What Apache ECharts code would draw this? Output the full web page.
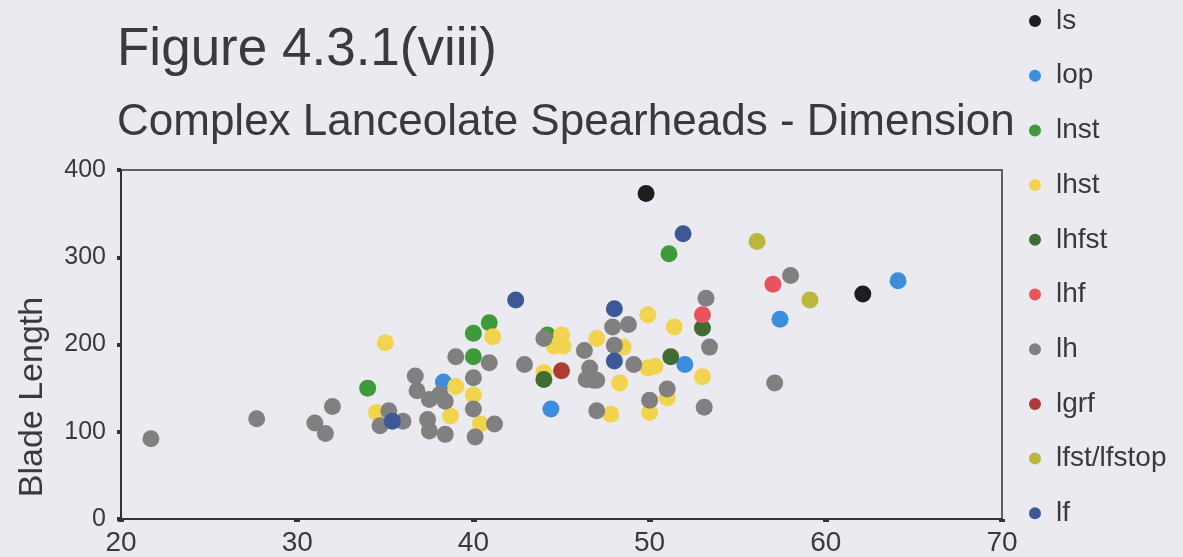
<!DOCTYPE html>
<html>
<head>
<meta charset="utf-8">
<script src="https://cdn.jsdelivr.net/npm/echarts@6/dist/echarts.min.js"></script>
<style>
  html, body { margin: 0; padding: 0; background: #ebeaf0; }
  #main { width: 1183px; height: 557px; }
</style>
</head>
<body>
<div id="main"></div>
<script>
// series names, in legend order
var seriesNames = ['ls', 'lop', 'lnst', 'lhst', 'lhfst', 'lhf', 'lh', 'lgrf', 'lfst/lfstop', 'lf'];
var seriesColors = ['#1e1e1e', '#3b8ede', '#3e9a3a', '#f2d34e', '#3f6c33', '#e8535d', '#808080', '#b03a35', '#bbb73a', '#3c5898'];

// [maximum width, blade length]
var ls = [[49.8, 373], [62.1, 258]];
var lop = [[38.3, 157], [44.4, 126], [52.0, 177], [57.4, 229], [64.1, 273]];
var lnst = [[34.0, 150], [40.0, 213], [40.9, 225], [40.0, 186], [44.2, 211], [51.1, 304]];
var lhst = [[35.0, 202], [34.5, 122], [39.0, 152], [41.1, 209], [40.0, 142], [38.7, 118], [40.4, 109],
  [45.0, 211], [44.6, 198], [45.1, 198], [47.0, 207], [48.5, 197], [49.9, 234], [51.4, 220],
  [49.9, 173], [50.3, 175], [44.0, 168], [48.3, 156], [51.0, 139], [50.0, 122], [47.8, 120], [53.0, 163]];
var lhfst = [[44.0, 160], [51.2, 186], [53.0, 219]];
var lhf = [[57.0, 269], [53.0, 234]];
var lh = [[21.7, 92], [27.7, 115], [31.0, 110], [31.6, 98], [32.0, 129], [35.2, 124], [34.7, 107],
  [36.0, 112], [36.7, 164], [36.8, 147], [37.5, 137], [38.1, 143], [38.4, 135], [37.4, 114],
  [37.5, 101], [38.4, 97], [39.0, 186], [40.9, 179], [42.9, 177], [40.0, 162], [40.0, 126],
  [40.1, 94], [41.2, 109], [44.0, 207], [46.3, 193], [47.9, 220], [48.8, 223], [48.0, 199],
  [49.1, 177], [46.6, 173], [46.4, 160], [46.8, 159], [47.0, 159], [51.0, 149], [50.0, 136],
  [47.0, 124], [53.2, 253], [53.4, 197], [53.1, 128], [58.0, 279], [57.1, 156]];
var lgrf = [[45.0, 170]];
var lfst = [[56.1, 318], [59.1, 251]];
var lf = [[35.4, 112], [42.4, 251], [48.0, 241], [48.0, 181], [51.9, 327]];

var seriesData = [ls, lop, lnst, lhst, lhfst, lhf, lh, lgrf, lfst, lf];

var xTicks = [20, 30, 40, 50, 60, 70];
var yTicks = [0, 100, 200, 300, 400];

var myChart = echarts.init(document.getElementById('main'));

var series = [];
for (var i = 0; i < seriesNames.length; i++) {
    series.push({
        name: seriesNames[i],
        type: 'scatter',
        symbol: 'circle',
        symbolSize: 17,
        itemStyle: {
            color: seriesColors[i],
            opacity: 1
        },
        data: seriesData[i]
    });
}

var textColor = '#3a3a3a';
var fontName = 'Liberation Sans, Arial, sans-serif';

option = {
    backgroundColor: '#ebeaf0',
    animation: false,
    textStyle: { fontFamily: fontName },
    grid: {
        left: 121,
        right: 181,
        top: 170,
        bottom: 37,
        show: true,
        borderColor: '#333',
        borderWidth: 1.5,
        backgroundColor: 'transparent'
    },
    legend: {
        orient: 'vertical',
        left: 1024,
        top: 2,
        icon: 'circle',
        itemWidth: 12,
        itemHeight: 12,
        itemGap: 26.7,
        data: seriesNames,
        textStyle: {
            fontSize: 28,
            lineHeight: 28,
            color: textColor,
            fontFamily: fontName,
            padding: [0, 0, 0, 10]
        }
    },
    graphic: [{
        type: 'text',
        left: 117,
        top: 24,
        style: {
            text: 'Figure 4.3.1(viii)',
            fontSize: 53,
            fontFamily: fontName,
            fill: textColor
        }
    }, {
        type: 'text',
        left: 117,
        top: 101,
        style: {
            text: 'Complex Lanceolate Spearheads - Dimension',
            fontSize: 44,
            fontFamily: fontName,
            fill: textColor
        }
    }, {
        // y axis title, sits lower than the plot centre in the original
        type: 'text',
        x: 33,
        y: 397,
        rotation: Math.PI / 2,
        style: {
            text: 'Blade Length',
            fontSize: 34,
            fontFamily: fontName,
            fill: textColor,
            align: 'center',
            verticalAlign: 'middle'
        }
    }],
    xAxis: {
        type: 'value',
        min: xTicks[0],
        max: xTicks[xTicks.length - 1],
        interval: 10,
        axisLine: { lineStyle: { color: '#333', width: 2 } },
        axisTick: { length: 3, lineStyle: { color: '#333', width: 6 } },
        axisLabel: { fontSize: 28, color: textColor, margin: 10, fontFamily: fontName },
        splitLine: { show: false }
    },
    yAxis: {
        type: 'value',
        min: yTicks[0],
        max: yTicks[yTicks.length - 1],
        interval: 100,
        axisLine: { lineStyle: { color: '#333', width: 2 } },
        axisTick: { length: 4, lineStyle: { color: '#333', width: 4 } },
        axisLabel: { fontSize: 25, color: textColor, margin: 15, fontFamily: fontName },
        splitLine: { show: false }
    },
    series: series
};
myChart.setOption(option);
</script>
</body>
</html>
